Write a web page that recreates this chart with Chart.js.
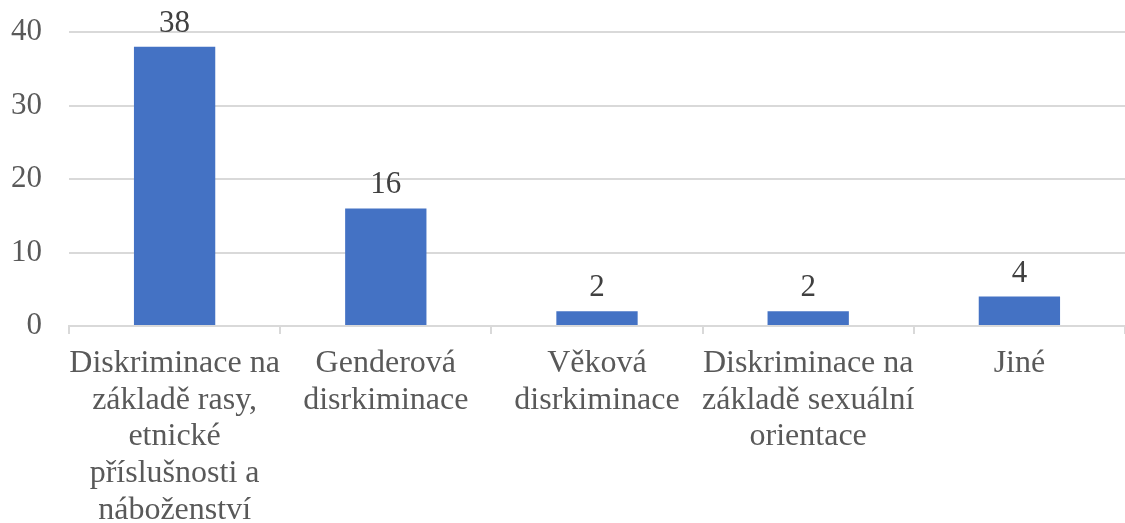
<!DOCTYPE html>
<html>
<head>
<meta charset="utf-8">
<script src="https://cdn.jsdelivr.net/npm/chart.js@4"></script>
<style>
    html, body { margin: 0; padding: 0; background: #fff; }
    #wrap { width: 1125px; height: 523px; }
</style>
</head>
<body>
<div id="wrap"><canvas id="chart"></canvas></div>
<script>
const categories = [
    ['Diskriminace na', 'základě rasy,', 'etnické', 'příslušnosti a', 'náboženství'],
    ['Genderová', 'disrkiminace'],
    ['Věková', 'disrkiminace'],
    ['Diskriminace na', 'základě sexuální', 'orientace'],
    ['Jiné'],
];
const counts = [38, 16, 2, 2, 4];
const yTicks = [0, 10, 20, 30, 40];

const FONT = "'Liberation Serif', 'Times New Roman', serif";

// value labels above each bar, placed from the bar elements
const valueLabels = {
    id: 'valueLabels',
    afterDatasetsDraw(chart) {
        const ctx = chart.ctx;
        const meta = chart.getDatasetMeta(0);
        ctx.save();
        ctx.font = '31px ' + FONT;
        ctx.fillStyle = '#404040';
        ctx.textAlign = 'center';
        ctx.textBaseline = 'alphabetic';
        meta.data.forEach(function (bar, i) {
            ctx.fillText(String(counts[i]), bar.x, bar.y - 15);
        });
        ctx.restore();
    },
};

new Chart(document.getElementById('chart'), {
    type: 'bar',
    data: {
        labels: categories,
        datasets: [
            {
                data: counts,
                backgroundColor: '#4472C4',
                categoryPercentage: 1,
                barPercentage: 0.385,
            },
        ],
    },
    options: {
        responsive: true,
        maintainAspectRatio: false,
        animation: false,
        layout: { padding: { top: 32, right: -9, bottom: 0, left: 0 } },
        plugins: {
            legend: { display: false },
            tooltip: { enabled: false },
        },
        scales: {
            x: {
                grid: {
                    offset: true,
                    drawOnChartArea: false,
                    drawTicks: true,
                    tickLength: 8,
                    color: '#d9d9d9',
                    lineWidth: 2,
                },
                border: { display: true, color: '#d9d9d9', width: 2 },
                ticks: {
                    color: '#595959',
                    font: { family: FONT, size: 32, lineHeight: 1.15 },
                    maxRotation: 0,
                    autoSkip: false,
                    padding: 11,
                },
                afterFit(scale) {
                    scale.height = 197;
                    scale.paddingTop = 0;
                },
            },
            y: {
                min: 0,
                max: 40,
                afterBuildTicks(scale) {
                    scale.ticks = yTicks.map(function (v) {
                        return { value: v };
                    });
                },
                grid: { color: '#d9d9d9', lineWidth: 2, drawTicks: false },
                border: { display: false },
                ticks: {
                    color: '#595959',
                    font: { family: FONT, size: 31 },
                    padding: 27,
                },
                afterFit(scale) {
                    scale.width = 69;
                    scale.paddingTop = 0;
                    scale.paddingBottom = 0;
                },
            },
        },
    },
    plugins: [valueLabels],
});
</script>
</body>
</html>
